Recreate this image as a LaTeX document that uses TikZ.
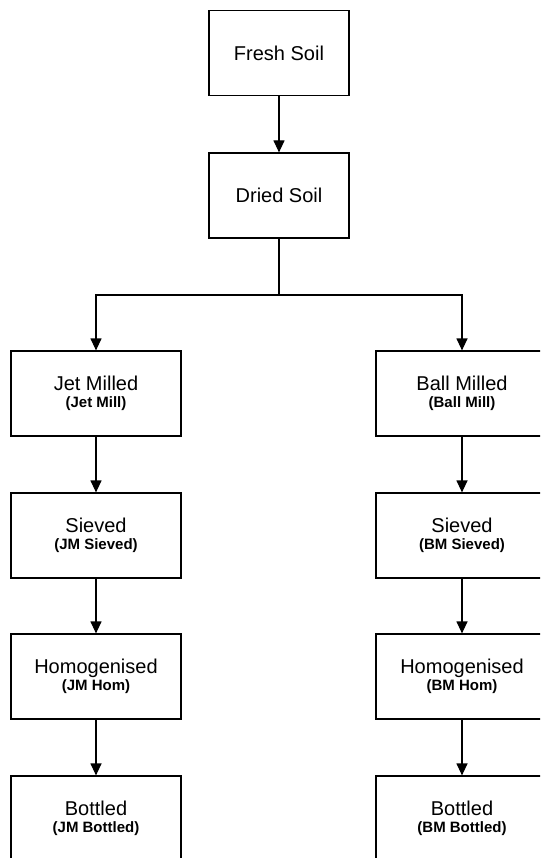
\documentclass[tikz,border=0pt]{standalone}
\usepackage{fontspec}
\setmainfont{Liberation Sans}
\usepackage{tikz}
\usetikzlibrary{arrows.meta,positioning}

\newcommand{\subname}[1]{\\[-7pt]{\bfseries\fontsize{15}{17}\selectfont #1}}

\begin{document}
\begin{tikzpicture}[
    x=1pt, y=-1pt,
    >={Triangle[width=11pt,length=12pt]},
    every node/.style={font=\fontsize{20}{24}\selectfont},
    wire/.style={line width=1.2pt},
    flow/.style={wire, ->},
    stage/.style={draw, line width=1.2pt, rectangle, minimum width=170pt,
        minimum height=85pt, inner sep=0pt, align=center}
]
    \useasboundingbox (0,0) rectangle (540,858);
    \clip (0,0) rectangle (540,858);

    \node[stage, minimum width=140pt] (fresh) at (279,53) {Fresh Soil};
    \node[stage, minimum width=140pt] (dried) at (279,195.5) {Dried Soil};

    \node[stage] (jm) at (96,393.5) {Jet Milled\subname{(Jet Mill)}};
    \node[stage] (jmsieve) at (96,535.5) {Sieved\subname{(JM Sieved)}};
    \node[stage] (jmhom) at (96,676.5) {Homogenised\subname{(JM Hom)}};
    \node[stage] (jmbottle) at (96,818.5) {Bottled\subname{(JM Bottled)}};

    \node[stage, minimum width=172pt] (bm) at (462,393.5) {Ball Milled\subname{(Ball Mill)}};
    \node[stage, minimum width=172pt] (bmsieve) at (462,535.5) {Sieved\subname{(BM Sieved)}};
    \node[stage, minimum width=172pt] (bmhom) at (462,676.5) {Homogenised\subname{(BM Hom)}};
    \node[stage, minimum width=172pt] (bmbottle) at (462,818.5) {Bottled\subname{(BM Bottled)}};

    \coordinate (split) at (279,295);

    \draw[flow] (fresh) -- (dried);
    \draw[wire] (dried) -- (split);
    \draw[flow] (split) -| (jm);
    \draw[flow] (split) -| (bm);

    \draw[flow] (jm) -- (jmsieve);
    \draw[flow] (jmsieve) -- (jmhom);
    \draw[flow] (jmhom) -- (jmbottle);

    \draw[flow] (bm) -- (bmsieve);
    \draw[flow] (bmsieve) -- (bmhom);
    \draw[flow] (bmhom) -- (bmbottle);
\end{tikzpicture}
\end{document}
